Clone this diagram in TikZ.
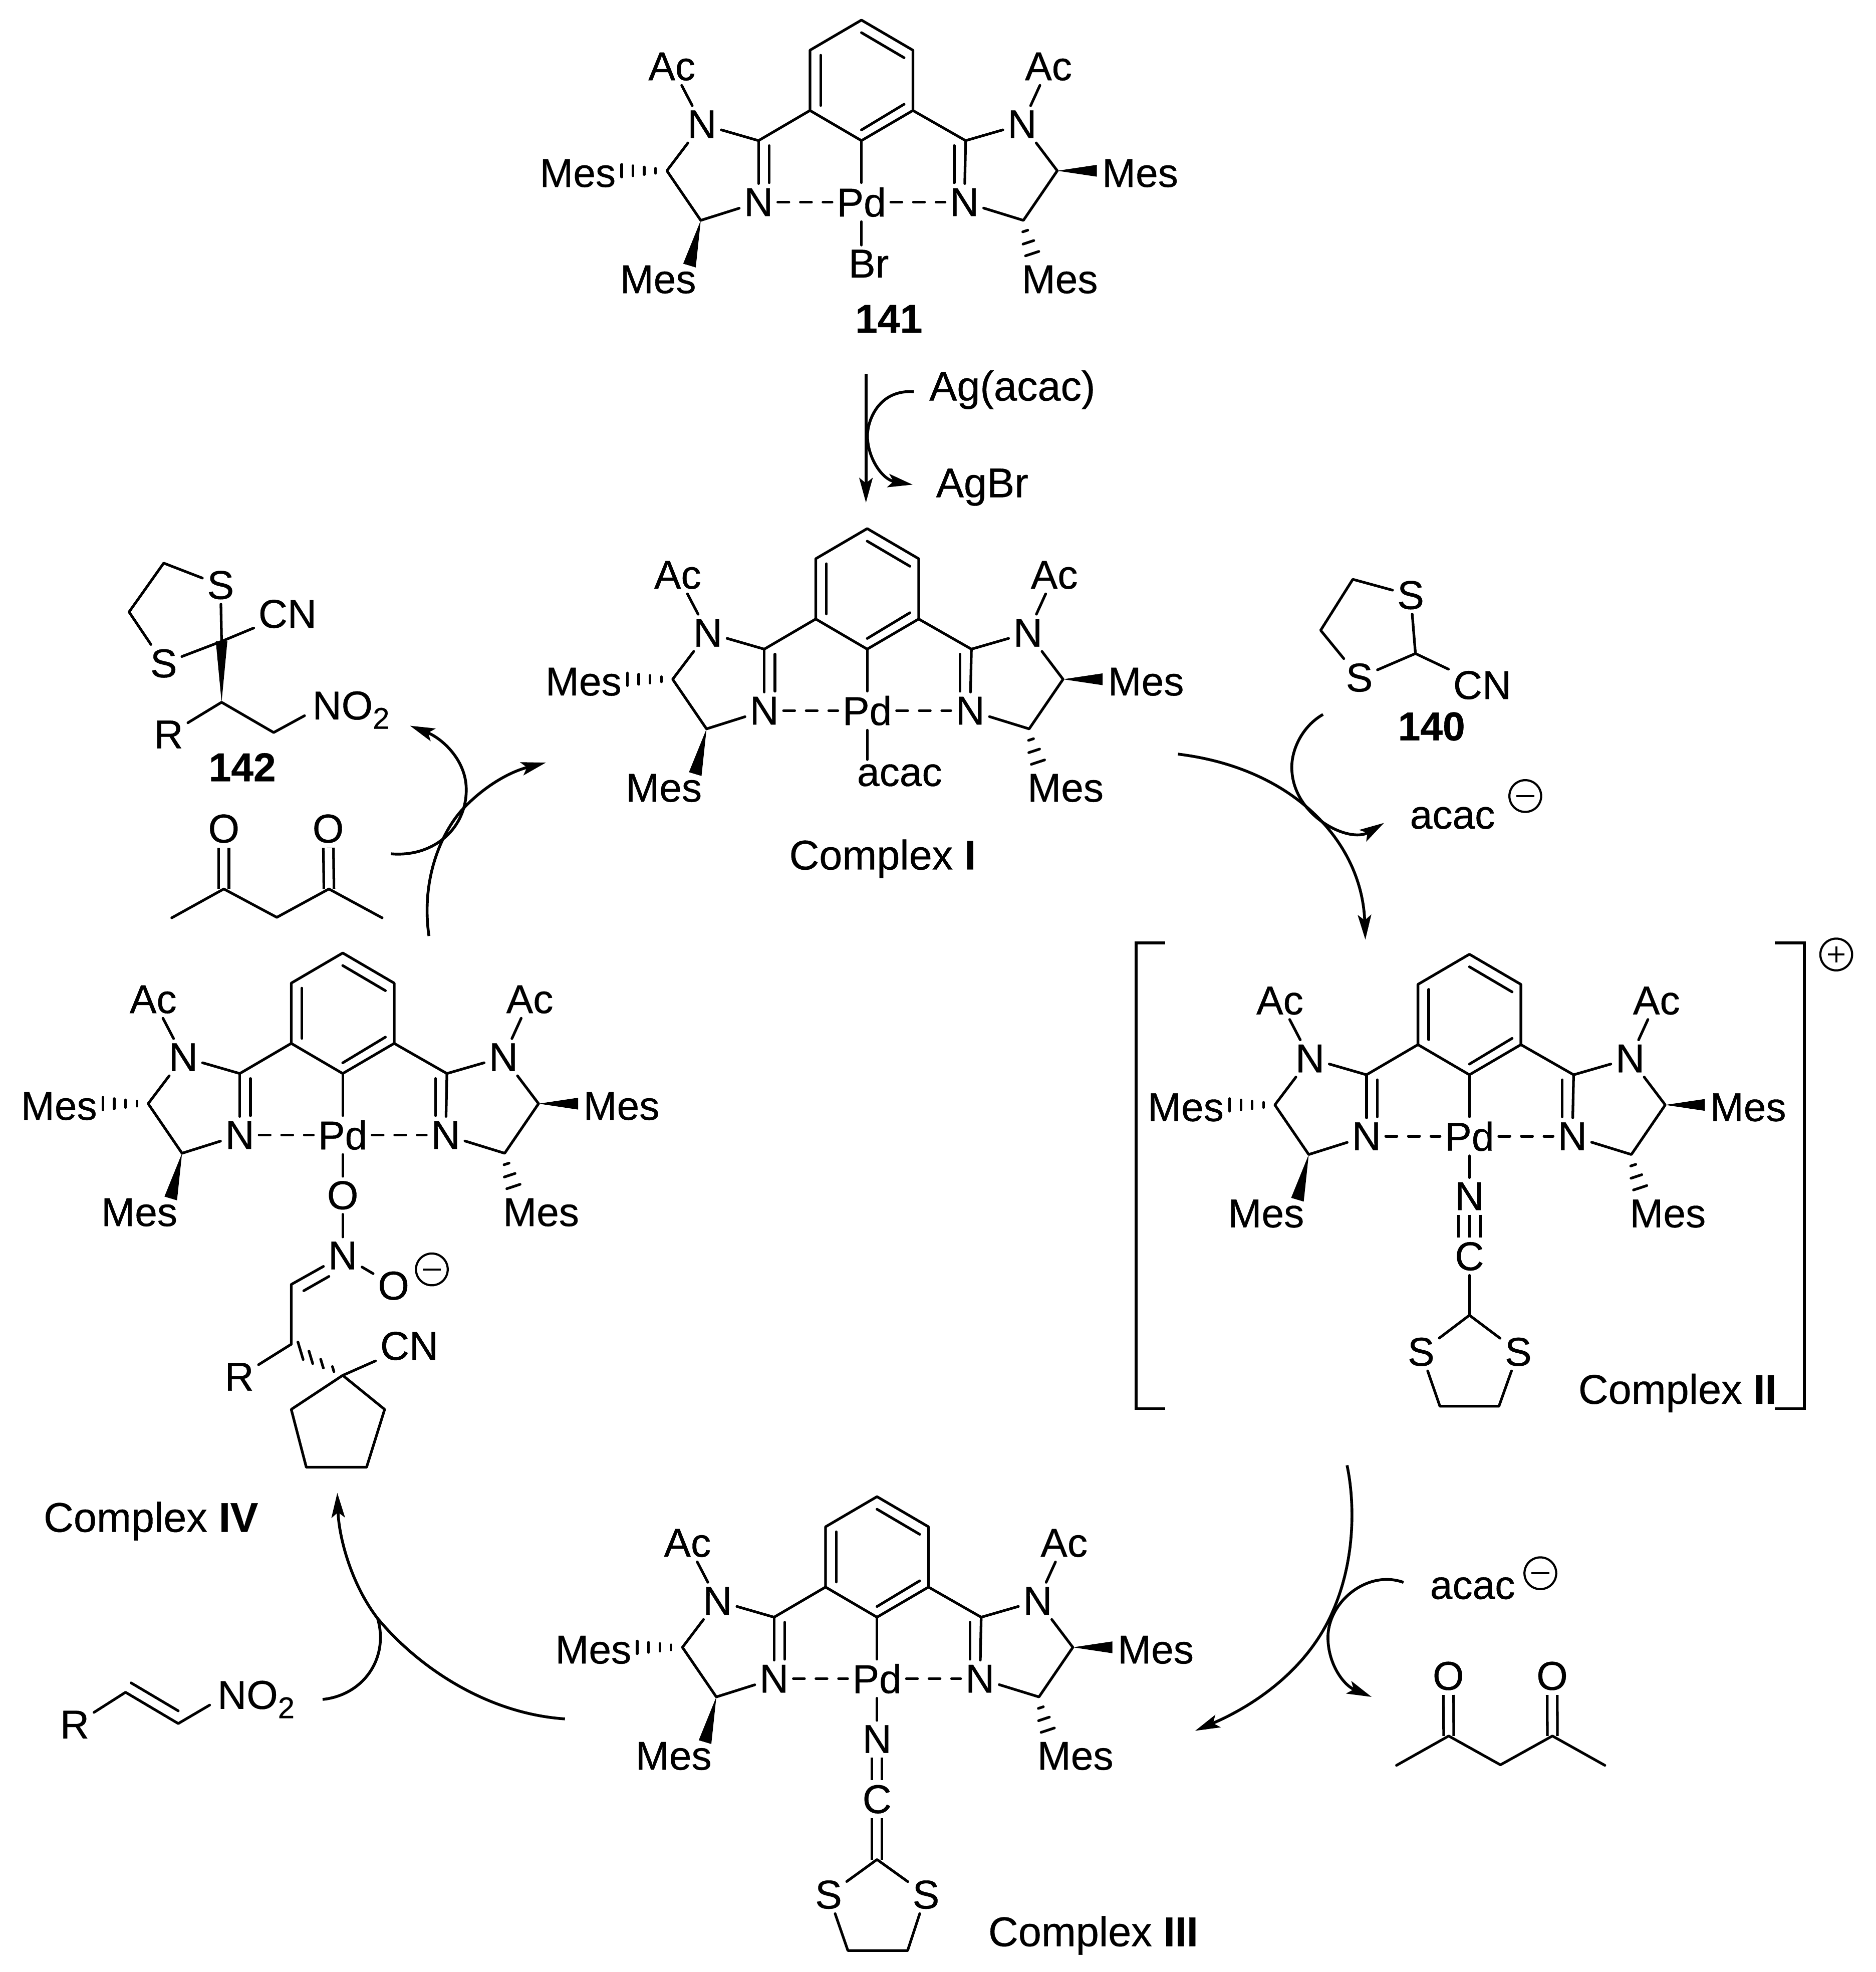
\documentclass[tikz,border=0pt]{standalone}
\usepackage{fontspec}
\setmainfont[FakeBold=0.5]{Liberation Sans}
\usetikzlibrary{arrows.meta}

\newcommand{\subtwo}{\raisebox{-5.3pt}{\fontsize{17}{17}\selectfont 2}}
\newcommand{\minussign}{\rule[-0.6pt]{10pt}{1.2pt}}
\newcommand{\plussign}{\makebox[9.25pt][l]{\rule[-0.6pt]{9.25pt}{1.2pt}\hspace{-5.225pt}\rule[-4.6pt]{1.2pt}{9.25pt}}}

\tikzset{
  atom/.style={inner sep=2.5pt},
  lbl/.style={inner sep=0pt,anchor=base west},
  big/.style={font=\fontsize{23.5}{26}\selectfont},
  bond/.style={line width=1.5pt,line join=round,line cap=round},
  dbl/.style={bond,line cap=butt,double,double distance=4.2pt},
  dashb/.style={bond,dash pattern=on 6.3pt off 6.5pt},
  rxn/.style={line width=1.6pt,-{Stealth[length=14pt,width=7.6pt,inset=3pt]}},
  chg/.style={circle,draw,line width=1.2pt,inner sep=0pt,minimum size=18pt},
  pincer/.pic={
    % aryl ring
    \coordinate (ar1) at (0,-145);
    \coordinate (ar2) at (-41,-121);
    \coordinate (ar3) at (-41,-73);
    \coordinate (ar4) at (0,-49);
    \coordinate (ar5) at (41,-73);
    \coordinate (ar6) at (41,-121);
    \coordinate (cl) at (-82,-49);
    \coordinate (cr) at (83,-49);
    \coordinate (cml) at (-155,-25);
    \coordinate (cbl) at (-128,14.5);
    \coordinate (cmr) at (156,-25);
    \coordinate (cbr) at (129,14.5);
    \node[atom] (pd) at (0,0) {Pd};
    \node[atom] (nbl) at (-82,0) {N};
    \node[atom] (nbr) at (82,0) {N};
    \node[atom] (ntl) at (-127,-62) {N};
    \node[atom] (ntr) at (128,-62) {N};
    \node[atom] (acl) at (-151,-108) {Ac};
    \node[atom] (acr) at (149,-108) {Ac};
    \node[atom] (mesl) at (-226,-23) {Mes};
    \node[atom] (mesr) at (222,-23) {Mes};
    \node[atom] (mesbl) at (-162,61.6) {Mes};
    \node[atom] (mesbr) at (158,61.6) {Mes};
    \draw[bond] (ar1) -- (ar2) -- (ar3) -- (ar4) -- (ar5) -- (ar6) -- cycle;
    \draw[bond] (-32.5,-117) -- (-32.5,-77);
    \draw[bond] (0,-135) -- (34,-115);
    \draw[bond] (34,-78) -- (0,-57.5);
    \draw[bond] (ar3) -- (cl) -- (ntl) -- (cml) -- (cbl) -- (nbl);
    \draw[bond] (ar5) -- (cr) -- (ntr) -- (cmr) -- (cbr) -- (nbr);
    \draw[bond] (cl) -- (nbl);
    \draw[bond] (cr) -- (nbr);
    \draw[bond] (-73.5,-45) -- (-73.5,-15.5);
    \draw[bond] (74,-45) -- (74,-15.5);
    \draw[bond] (ar4) -- (pd);
    \draw[bond] (ntl) -- (acl);
    \draw[bond] (ntr) -- (acr);
    \draw[dashb] (nbl) -- (pd);
    \draw[dashb] (pd) -- (nbr);
    % stereo bonds
    \fill (cmr) -- (187.5,-29.7) -- (187.5,-20.3) -- cycle;
    \fill (cbl) -- (-142,49) -- (-132,52) -- cycle;
    \foreach \x/\h in {-164/2,-173/3,-182/4,-191/5}
      \draw[bond] (\x,-25-\h) -- (\x,-25+\h);
    \foreach \x/\y/\d in {130.5/23/2,133/32/4.3,136/41/5.3}
      \draw[bond] (\x-\d,\y+0.33*\d) -- (\x+\d,\y-0.33*\d);
  }
}

\begin{document}
\begin{tikzpicture}[x=0.25mm,y=-0.25mm,every node/.style={font=\fontsize{22.8}{26}\selectfont}]
\useasboundingbox (0,0) rectangle (1494,1570.6);

%%% 141
\pic (a-) at (686.2,161) {pincer};
\node[atom] (br) at (692,210) {Br};
\draw[bond] (a-pd) -- (a-pd |- br.north);
\node (n141) at (708,254) {\bfseries 141};

%%% Ag step
\node[lbl,big] (agacac) at (740,319) {Ag(acac)};
\node[lbl,big] (agbr) at (745.4,396) {AgBr};
\coordinate (s1) at (689.8,297.7);
\coordinate (s2) at (689.8,400.3);
\coordinate (ag1) at (728,312);
\coordinate (ag2) at (727,386);
\draw[rxn] (s1) -- (s2);
\draw[rxn] (ag1) .. controls (700,310) and (691,335) .. (691,347) .. controls (691,365) and (703,382) .. (ag2);

%%% complex I
\pic (b-) at (690.8,566) {pincer};
\node[atom] (acacb) at (716.6,617.5) {acac};
\draw[bond] (b-pd) -- (b-pd |- acacb.north);
\node[lbl,big] (cplxa) at (628.4,692.5) {Complex \textbf{I}};

%%% 140
\coordinate (t1) at (1077.6,461.4);
\coordinate (t2) at (1052,502);
\coordinate (t3) at (1127.5,520.5);
\node[atom] (ts1) at (1123.7,474) {S};
\node[atom] (ts2) at (1082.8,539.7) {S};
\node[atom] (tcn) at (1180.7,545.7) {CN};
\node (n140) at (1140.3,578.6) {\bfseries 140};
\draw[bond] (ts1) -- (t1) -- (t2) -- (ts2) -- (t3) -- (ts1);
\draw[bond] (t3) -- (tcn);

%%% I to II
\coordinate (i1) at (938.3,600.6);
\coordinate (i2) at (1087.6,748.4);
\coordinate (i3) at (1053.9,569);
\coordinate (i4) at (1102.5,655.4);
\draw[rxn] (i1) .. controls (1032,612) and (1085,672) .. (i2);
\draw[rxn] (i3) .. controls (1038,578) and (1029,596) .. (1029,611) .. controls (1029,650) and (1075,672) .. (i4);
\node[atom] (acaci) at (1157,651.5) {acac};
\node[chg] (mi) at (1215,634) {\minussign};

%%% complex II
\pic (c-) at (1170.5,905) {pincer};
\node[atom] (cn) at (1170.5,952.7) {N};
\node[atom] (cc) at (1170.5,1000.6) {C};
\coordinate (cch) at (1170.5,1047.5);
\node[atom] (cs1) at (1132,1076.7) {S};
\node[atom] (cs2) at (1209.4,1076.7) {S};
\coordinate (cc1) at (1147,1120);
\coordinate (cc2) at (1194,1120);
\draw[bond] (c-pd) -- (cn);
\draw[dbl,double distance=10.8pt] (cn) -- (cc);
\draw[bond,line cap=butt] (cn) -- (cc);
\draw[bond] (cc) -- (cch);
\draw[bond] (cs1) -- (cch) -- (cs2) -- (cc2) -- (cc1) -- (cs1);
\coordinate (bl1) at (928,751);
\coordinate (bl2) at (905,751);
\coordinate (bl3) at (905,1122);
\coordinate (bl4) at (928,1122);
\coordinate (br1) at (1413.7,751);
\coordinate (br2) at (1437.3,751);
\coordinate (br3) at (1437.3,1122);
\coordinate (br4) at (1413.7,1122);
\draw[bond,line cap=butt,line join=miter] (bl1) -- (bl2) -- (bl3) -- (bl4);
\draw[bond,line cap=butt,line join=miter] (br1) -- (br2) -- (br3) -- (br4);
\node[chg] (pc) at (1462.7,760.2) {\plussign};
\node[lbl,big] (cplxb) at (1257,1118) {Complex \textbf{II}};

%%% II to III
\coordinate (j1) at (1073,1167);
\coordinate (j2) at (952,1378.5);
\coordinate (j3) at (1118,1260.3);
\coordinate (j4) at (1092.6,1351.5);
\draw[rxn] (j1) .. controls (1078,1190) and (1082,1240) .. (1060,1287) .. controls (1040,1330) and (1000,1358) .. (j2);
\draw[rxn] (j3) .. controls (1090,1250) and (1058,1275) .. (1057.8,1304) .. controls (1057.8,1325) and (1070,1342) .. (j4);
\node[atom] (acacj) at (1173,1265) {acac};
\node[chg] (mj) at (1227,1253) {\minussign};

%%% acetylacetone, right
\node[atom] (ro1) at (1153.7,1334.8) {O};
\node[atom] (ro2) at (1236.4,1334.8) {O};
\coordinate (rc1) at (1112.4,1406);
\coordinate (rc2) at (1154,1382.6);
\coordinate (rc3) at (1195.2,1405.6);
\coordinate (rc4) at (1236.6,1382.6);
\coordinate (rc5) at (1278.4,1406);
\draw[dbl] (ro1) -- (rc2);
\draw[dbl] (ro2) -- (rc4);
\draw[bond] (rc1) -- (rc2) -- (rc3) -- (rc4) -- (rc5);

%%% complex III
\pic (d-) at (698.6,1337) {pincer};
\node[atom] (dn) at (698.6,1385) {N};
\node[atom] (dc) at (698.6,1433) {C};
\coordinate (dch) at (698.6,1481);
\node[atom] (ds1) at (660,1509) {S};
\node[atom] (ds2) at (737.6,1509) {S};
\coordinate (dc1) at (675.4,1553.5);
\coordinate (dc2) at (723,1553.5);
\draw[bond] (d-pd) -- (dn);
\draw[dbl] (dn) -- (dc);
\draw[dbl] (dc) -- (dch);
\draw[bond] (ds1) -- (dch) -- (ds2) -- (dc2) -- (dc1) -- (ds1);
\node[lbl,big] (cplxc) at (787,1550) {Complex \textbf{III}};

%%% III to IV
\coordinate (k1) at (450,1369);
\coordinate (k2) at (268.7,1189);
\coordinate (k3) at (257,1353.5);
\coordinate (k4) at (300.8,1289);
\draw[rxn] (k1) .. controls (390,1365) and (335,1330) .. (k4) .. controls (280,1262) and (270,1225) .. (k2);
\draw[line width=1.6pt] (k3) .. controls (290,1350) and (310,1320) .. (k4);

%%% nitroolefin
\node[atom] (lr) at (59.5,1373.6) {R};
\coordinate (lc1) at (100,1347.8);
\coordinate (lc2) at (142,1372.7);
\node[lbl] (lno) at (173,1361) {NO\subtwo};
\draw[bond] (lr) -- (lc1) -- (lc2) -- ([shift={(-6,-3)}]lno.base west);
\draw[bond] (104.4,1340.3) -- (142,1362.6);

%%% complex IV
\pic (e-) at (273,904) {pincer};
\node[atom] (eo1) at (273,952) {O};
\node[atom] (en) at (273,1000) {N};
\node[atom] (eo2) at (313.5,1024) {O};
\node[chg] (me) at (344,1011) {\minussign};
\coordinate (ec1) at (232,1023);
\coordinate (ec2) at (232,1070.6);
\node[atom] (er) at (190.6,1096.5) {R};
\coordinate (eq) at (273,1095.4);
\node[atom] (ecn) at (326,1072) {CN};
\coordinate (ep1) at (232,1122.5);
\coordinate (ep2) at (244,1168.6);
\coordinate (ep3) at (292,1168.6);
\coordinate (ep4) at (306.4,1122.5);
\draw[bond] (e-pd) -- (eo1);
\draw[bond] (eo1) -- (en);
\draw[bond] (en) -- (eo2);
\draw[bond] (ec2) -- (ec1) -- (en);
\draw[bond] (242,1028) -- (262,1016.6);
\draw[bond] (ec2) -- (er);
\draw[bond] (eq) -- (ecn);
\draw[bond] (eq) -- (ep1) -- (ep2) -- (ep3) -- (ep4) -- cycle;
\foreach \x/\y/\h in {239.4/1075.8/7,247.6/1081/5,256.5/1086/3.5,265.4/1090.4/2}
  \draw[bond] (\x-0.3*\h,\y-\h) -- (\x+0.3*\h,\y+\h);
\node[lbl,big] (cplxd) at (34.5,1220) {Complex \textbf{IV}};

%%% 142
\coordinate (p1) at (130.4,448.5);
\coordinate (p2) at (102.8,487.4);
\coordinate (pq) at (176.5,510.8);
\coordinate (pc) at (176.5,559.3);
\coordinate (pd) at (218,583.4);
\node[atom] (ps1) at (175.7,466) {S};
\node[atom] (ps2) at (130.4,528.4) {S};
\node[atom] (pcn) at (229,489) {CN};
\node[atom] (pr) at (134.3,585) {R};
\node[lbl] (pno) at (248.6,573) {NO\subtwo};
\node (n142) at (193,611) {\bfseries 142};
\draw[bond] (ps1) -- (p1) -- (p2) -- (ps2) -- (pq) -- (ps1);
\draw[bond] (pq) -- (pcn);
\fill (pc) -- (171.9,510.8) -- (181.1,510.8) -- cycle;
\draw[bond] (pr) -- (pc) -- (pd) -- ([shift={(-6,-3)}]pno.base west);

%%% acetylacetone, left
\node[atom] (lo1) at (178.3,660) {O};
\node[atom] (lo2) at (261.4,660) {O};
\coordinate (a1) at (136.8,731);
\coordinate (a2) at (178.3,708);
\coordinate (a3) at (220.5,730.6);
\coordinate (a4) at (262,708);
\coordinate (a5) at (304.4,731);
\draw[dbl] (lo1) -- (a2);
\draw[dbl] (lo2) -- (a4);
\draw[bond] (a1) -- (a2) -- (a3) -- (a4) -- (a5);

%%% IV to I
\coordinate (m1) at (311.3,680);
\coordinate (m2) at (326.6,578);
\coordinate (m3) at (341.7,745.5);
\coordinate (m4) at (434.8,607.4);
\draw[rxn] (m1) .. controls (345,683) and (372,660) .. (371.4,628) .. controls (371,605) and (352,588) .. (m2);
\draw[rxn] (m3) .. controls (335,700) and (352,662) .. (369,644) .. controls (385,627) and (405,615) .. (m4);

\end{tikzpicture}
\end{document}
